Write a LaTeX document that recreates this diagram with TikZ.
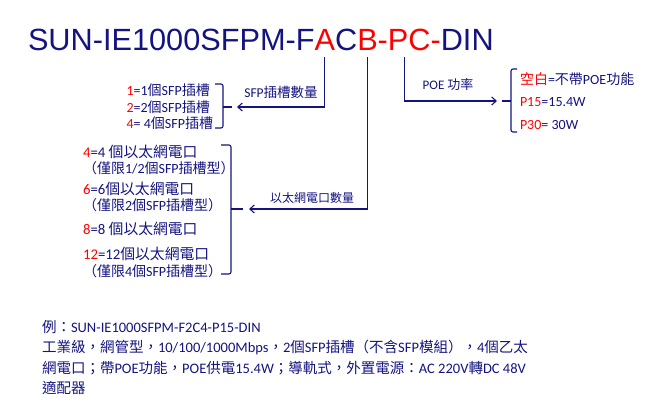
\documentclass[tikz,border=0pt]{standalone}
\usepackage{fontspec}
\setmainfont{Carlito}
\newfontfamily\titlefont{Liberation Sans}
\newfontfamily\cjk{Noto Sans CJK TC}
\newcommand\zh[1]{{\cjk #1}}
\newcommand\rd[1]{\textcolor{red}{#1}}
\newcommand\notesize{\fontsize{14}{16.5}\selectfont}
\usetikzlibrary{arrows.meta,positioning}
\definecolor{navyblue}{RGB}{20,20,128}

\begin{document}
\begin{tikzpicture}[x=1pt,y=-1pt,
  every node/.style={inner sep=0pt,outer sep=0pt,text=navyblue},
  conn/.style={draw=navyblue,line width=1.1pt,-{Straight Barb[length=4.5pt,width=8pt]}},
  brace/.style={draw=navyblue,line width=1.1pt,rounded corners=2pt}]
\useasboundingbox (0,0) rectangle (652,412);

% model code
\begin{scope}[every node/.style={inner sep=0pt,outer sep=0pt,anchor=base west,font=\titlefont\fontsize{30.7}{32}\selectfont}]
\node[text=navyblue] (t1) at (28,51) {SUN-IE1000SFPM-F};
\node[text=red] (tA) at (t1.base east) {A};
\node[text=navyblue] (tC) at (tA.base east) {C};
\node[text=red] (tB) at (tC.base east) {B};
\node[text=red] (t2) at (tB.base east) {-};
\node[text=red] (tP) at (t2.base east) {P};
\node[text=red] (t3) at (tP.base east) {C-};
\node[text=navyblue] (t4) at (t3.base east) {DIN};
\end{scope}

% labels on the connectors
\node[font=\fontsize{13.5}{16}\selectfont] (sfpLbl) at (281,92) {SFP\zh{插槽數量}};
\node[font=\fontsize{12}{14}\selectfont] (ethLbl) at (312,198) {\zh{以太網電口數量}};
\node[font=\fontsize{13}{15}\selectfont] (poeLbl) at (448,85) {POE \zh{功率}};

% options
\node[anchor=east,align=left,font=\fontsize{14}{16.5}\selectfont] (sfpList) at (213,107)
  {\rd{1}=1\zh{個}SFP\zh{插槽}\\ \rd{2}=2\zh{個}SFP\zh{插槽}\\ \rd{4}= 4\zh{個}SFP\zh{插槽}};

\begin{scope}[every node/.style={inner sep=0pt,outer sep=0pt,text=navyblue,anchor=west,align=left,font=\fontsize{14.8}{16.5}\selectfont}]
\node (eth4) at (83,160) {\rd{4}=4 \zh{個以太網電口}\\ \notesize\zh{（僅限}1/2\zh{個}SFP\zh{插槽型）}};
\node (eth6) at (83,197) {\rd{6}=6\zh{個以太網電口}\\ \notesize\zh{（僅限}2\zh{個}SFP\zh{插槽型）}};
\node (eth8) at (83,229) {\rd{8}=8 \zh{個以太網電口}};
\node (eth12) at (83,262.5) {\rd{12}=12\zh{個以太網電口}\\ \notesize\zh{（僅限}4\zh{個}SFP\zh{插槽型）}};
\end{scope}

\begin{scope}[every node/.style={inner sep=0pt,outer sep=0pt,text=navyblue,anchor=west,font=\fontsize{14}{16}\selectfont}]
\node (poe0) at (520,79) {\rd{\zh{空白}}=\zh{不帶}POE\zh{功能}};
\node (poe15) at (520,102) {\rd{P15}=15.4W};
\node (poe30) at (520,125) {\rd{P30}= 30W};
\end{scope}

% braces
\draw[brace] (215,84) -- (223,84) -- (223,128) -- (215,128);
\draw[brace] (223,107) -- (232,107);
\draw[brace] (221,145) -- (231,145) -- (231,274) -- (221,274);
\draw[brace] (231,209) -- (243,209);
\draw[brace] (517,69) -- (511,69) -- (511,132) -- (517,132);
\draw[brace] (502,101) -- (511,101);

% connectors
\coordinate (sfpIn) at (237,107);
\coordinate (ethIn) at (249,209);
\coordinate (poeIn) at (497,101);
\draw[conn,shorten <=6pt] (tA.south) |- (sfpIn);
\draw[conn,shorten <=6pt] (tB.south) |- (ethIn);
\draw[conn,shorten <=6pt] ([xshift=6pt]tP.south) |- (poeIn);

% example
\node[anchor=north west,align=left,font=\fontsize{14.5}{20.6}\selectfont] (example) at (42,320)
  {\zh{例：}SUN-IE1000SFPM-F2C4-P15-DIN\\
   \zh{工業級，網管型，}10/100/1000Mbps\zh{，}2\zh{個}SFP\zh{插槽（不含}SFP\zh{模組），}4\zh{個乙太}\\
   \zh{網電口；帶}POE\zh{功能，}POE\zh{供電}15.4W\zh{；導軌式，外置電源：}AC 220V\zh{轉}DC 48V\\
   \zh{適配器}};
\end{tikzpicture}
\end{document}
